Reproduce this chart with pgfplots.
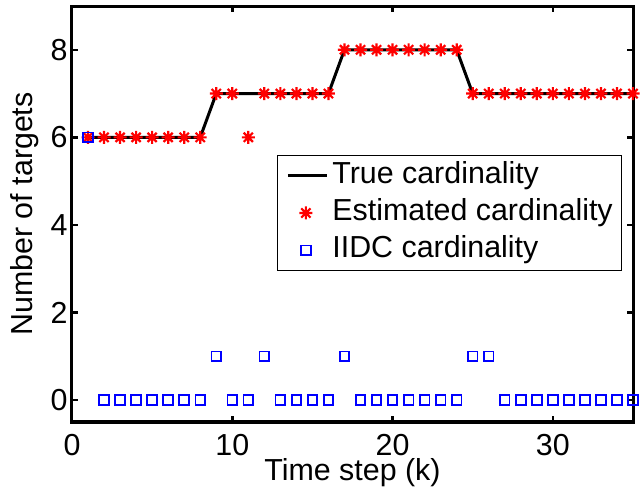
\documentclass[border=0pt]{standalone}
\usepackage{fontspec}
\setmainfont{Liberation Sans}
\usepackage{pgfplots}
\pgfplotsset{compat=1.18}

% MATLAB-style '*' marker: plus and cross together
\pgfdeclareplotmark{mstar}{%
  \pgfpathmoveto{\pgfqpoint{-\pgfplotmarksize}{0pt}}%
  \pgfpathlineto{\pgfqpoint{\pgfplotmarksize}{0pt}}%
  \pgfpathmoveto{\pgfqpoint{0pt}{-\pgfplotmarksize}}%
  \pgfpathlineto{\pgfqpoint{0pt}{\pgfplotmarksize}}%
  \pgfpathmoveto{\pgfqpoint{-0.7071\pgfplotmarksize}{-0.7071\pgfplotmarksize}}%
  \pgfpathlineto{\pgfqpoint{0.7071\pgfplotmarksize}{0.7071\pgfplotmarksize}}%
  \pgfpathmoveto{\pgfqpoint{-0.7071\pgfplotmarksize}{0.7071\pgfplotmarksize}}%
  \pgfpathlineto{\pgfqpoint{0.7071\pgfplotmarksize}{-0.7071\pgfplotmarksize}}%
  \pgfusepathqstroke}

\begin{document}
\fontsize{30.5}{36}\selectfont
\begin{tikzpicture}
\begin{axis}[
    at={(0,0)}, anchor=south west,
    scale only axis,
    width=561bp, height=416bp,
    xmin=0, xmax=35,
    ymin=-0.5, ymax=9,
    xtick={0,10,20,30},
    ytick={0,2,4,6,8},
    /pgf/number format/assume math mode=true,
    tick align=inside,
    xtick pos=both, ytick pos=both,
    major tick length=6bp,
    every tick/.style={black, line width=2.5bp},
    axis line style={line width=3bp},
    xticklabel style={anchor=center, inner sep=0pt, yshift=-23bp},
    yticklabel style={anchor=center, inner sep=0pt, xshift=-13bp},
    xlabel={Time step (k)},
    ylabel={Number of targets},
    xlabel style={at={(axis description cs:0.5,-0.122)}, anchor=center, inner sep=0pt},
    ylabel style={at={(axis description cs:-0.084,0.5)}, anchor=center, inner sep=0pt},
    clip=false,
    legend cell align=left,
    legend image code/.code={\draw[mark repeat=2,mark phase=2,#1]
        plot coordinates {(0bp,0bp) (18bp,0bp) (39bp,0bp)};},
    legend style={at={(rel axis cs:0.3654,0.6418)}, anchor=north west,
        draw=black, line width=0.8bp, inner xsep=9bp, inner ysep=5bp,
        row sep=7bp, column sep=4bp,
        nodes={inner sep=0pt, text height=0.75em, text depth=0.25em}},
]
% true number of targets
\addplot[black, line width=3bp] coordinates {
    (1,6) (2,6) (3,6) (4,6) (5,6) (6,6) (7,6) (8,6)
    (9,7) (10,7) (11,7) (12,7) (13,7) (14,7) (15,7) (16,7)
    (17,8) (18,8) (19,8) (20,8) (21,8) (22,8) (23,8) (24,8)
    (25,7) (26,7) (27,7) (28,7) (29,7) (30,7) (31,7) (32,7) (33,7) (34,7) (35,7)
};
\addlegendentry{True cardinality}

% estimated
\addplot[only marks, red, mark=mstar, mark size=6.5bp, line width=2.2bp] coordinates {
    (1,6) (2,6) (3,6) (4,6) (5,6) (6,6) (7,6) (8,6)
    (9,7) (10,7) (11,6) (12,7) (13,7) (14,7) (15,7) (16,7)
    (17,8) (18,8) (19,8) (20,8) (21,8) (22,8) (23,8) (24,8)
    (25,7) (26,7) (27,7) (28,7) (29,7) (30,7) (31,7) (32,7) (33,7) (34,7) (35,7)
};
\addlegendentry{Estimated cardinality}

% IIDC
\addplot[only marks, blue, mark=square, mark size=4.8bp, line width=1.8bp] coordinates {
    (1,6) (2,0) (3,0) (4,0) (5,0) (6,0) (7,0) (8,0)
    (9,1) (10,0) (11,0) (12,1) (13,0) (14,0) (15,0) (16,0)
    (17,1) (18,0) (19,0) (20,0) (21,0) (22,0) (23,0) (24,0)
    (25,1) (26,1) (27,0) (28,0) (29,0) (30,0) (31,0) (32,0) (33,0) (34,0) (35,0)
};
\addlegendentry{IIDC cardinality}
\end{axis}
\pgfresetboundingbox
\useasboundingbox (-72bp,-69bp) rectangle (572bp,422bp);
\end{tikzpicture}
\end{document}
